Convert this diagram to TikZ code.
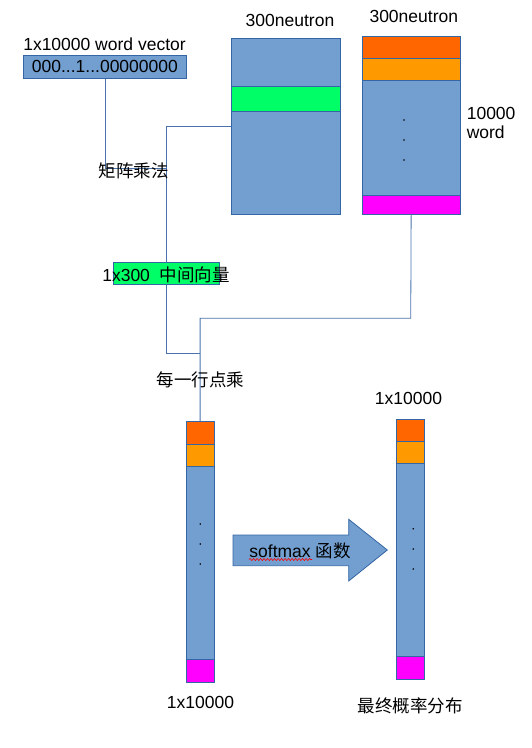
\documentclass[tikz,border=0pt]{standalone}
\usepackage{fontspec}
\setmainfont{Liberation Sans}
\newfontfamily\cjk{Noto Sans CJK SC}
\usetikzlibrary{decorations.pathmorphing}
\definecolor{bfill}{HTML}{729FCF}
\definecolor{bline}{HTML}{3465A4}
\definecolor{cline}{HTML}{4A72AC}
\definecolor{oa}{HTML}{FF6600}
\definecolor{ob}{HTML}{FF9900}
\definecolor{mg}{HTML}{FF00FF}
\definecolor{gr}{HTML}{00FF66}
\tikzset{
  blk/.style={draw=bline, line width=0.8pt, fill=bfill, inner sep=0pt, anchor=north west},
  band/.style={draw=bline, line width=0.8pt, inner sep=0pt, anchor=north west},
  lbl/.style={inner sep=0pt, font=\fontsize{17.5}{20}\selectfont},
  conn/.style={draw=cline, line width=0.8pt},
  dot/.style={fill=black}
}
\begin{document}
\begin{tikzpicture}[x=1pt,y=-1pt]
\useasboundingbox (0,0) rectangle (531,748);
% word vector
\node[lbl] (veclbl) at (104.5,44) {1x10000 word vector};
\node[blk, minimum width=163pt, minimum height=22.5pt, font=\fontsize{17.5}{20}\selectfont] (vec) at (23,55.3) {000...1...00000000};
% matrix 1
\node[lbl] (m1lbl) at (290,20.7) {300neutron};
\node[blk, minimum width=109pt, minimum height=176pt] (m1) at (230.6,38.3) {};
\node[band, fill=gr, minimum width=109pt, minimum height=24.7pt] (m1g) at (230.6,86.3) {};
% matrix 2
\node[lbl] (m2lbl) at (413.8,16) {300neutron};
\node[blk, minimum width=97.5pt, minimum height=178.6pt] (m2) at (362,35.7) {};
\node[band, fill=oa, minimum width=97.5pt, minimum height=22.6pt] (m2a) at (362,35.7) {};
\node[band, fill=ob, minimum width=97.5pt, minimum height=22pt] (m2b) at (362,58.3) {};
\node[band, fill=mg, minimum width=97.5pt, minimum height=19.3pt] (m2m) at (362,195) {};
\fill[dot] (404,120) circle (0.9pt) (404,140) circle (0.9pt) (404,160) circle (0.9pt);
\node[lbl, anchor=west] (wl1) at (466.6,113.3) {10000};
\node[lbl, anchor=west] (wl2) at (466.6,132.7) {word};
% middle vector
\node[band, fill=gr, minimum width=106.6pt, minimum height=22.3pt] (mid) at (112.7,262) {};
\node[lbl] (midlbl) at (166,275) {1x300\ \ {\cjk 中间向量}};
% column 1
\node[blk, minimum width=28pt, minimum height=260.4pt] (c1) at (185.7,421.3) {};
\node[band, fill=oa, minimum width=28pt, minimum height=22.7pt] (c1a) at (185.7,421.3) {};
\node[band, fill=ob, minimum width=28pt, minimum height=22.3pt] (c1b) at (185.7,444) {};
\node[band, fill=mg, minimum width=28pt, minimum height=22.7pt] (c1m) at (185.7,659) {};
\fill[dot] (200.3,524) circle (0.9pt) (200.3,544) circle (0.9pt) (200.3,564) circle (0.9pt);
\node[lbl] (c1lbl) at (200.5,702.7) {1x10000};
% column 2
\node[blk, minimum width=28pt, minimum height=260pt] (c2) at (395.7,418.7) {};
\node[band, fill=oa, minimum width=28pt, minimum height=22.6pt] (c2a) at (395.7,418.7) {};
\node[band, fill=ob, minimum width=28pt, minimum height=22pt] (c2b) at (395.7,441.3) {};
\node[band, fill=mg, minimum width=28pt, minimum height=22.4pt] (c2m) at (395.7,656.3) {};
\fill[dot] (413.3,528.7) circle (0.9pt) (413.3,549) circle (0.9pt) (413.3,569) circle (0.9pt);
\node[lbl] (c2lbl) at (408.5,398) {1x10000};
\node[lbl] (c2lbl2) at (410,706) {\cjk 最终概率分布};
% connectors
\coordinate (j1) at (166,168);
\coordinate (j0) at (230.6,126.3);
\coordinate (j2) at (199.7,353);
\coordinate (j3) at (410.75,318.3);
\draw[conn] (vec.south) |- (j1);
\draw[conn] (j0) -| (mid.north);
\draw[conn] (mid.south) |- (j2);
\draw[conn] (m2.south) -- (j3) -| (c1.north);
\node[lbl] (mul) at (133.7,170.7) {\cjk 矩阵乘法};
\node[lbl] (dotl) at (200.5,380) {\cjk 每一行点乘};
% block arrow
\draw[draw=bline, line width=0.8pt, fill=bfill] (233,535) -- (348.7,535) -- (348.7,519.3) -- (387.3,550) -- (348.7,581) -- (348.7,565.7) -- (233,565.7) -- cycle;
\node[lbl] (sm) at (300,550.5) {softmax {\cjk 函数}};
\draw[red, line width=0.6pt, decorate, decoration={snake, amplitude=1pt, segment length=3.5pt}] (249,559.5) -- (312,559.5);
\end{tikzpicture}
\end{document}
